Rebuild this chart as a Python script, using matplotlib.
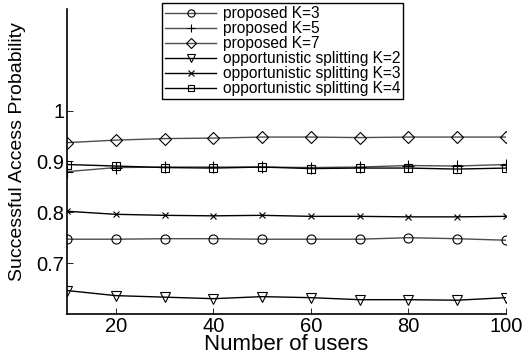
import matplotlib
matplotlib.use("Agg")
import matplotlib.pyplot as plt

plt.rcParams['font.family'] = ['Liberation Sans', 'DejaVu Sans']

users = [10, 20, 30, 40, 50, 60, 70, 80, 90, 100]

proposed_k3 = [0.747, 0.747, 0.748, 0.748, 0.747, 0.747, 0.747, 0.750, 0.748, 0.745]
proposed_k5 = [0.880, 0.888, 0.889, 0.889, 0.889, 0.888, 0.889, 0.892, 0.891, 0.894]
proposed_k7 = [0.937, 0.942, 0.945, 0.946, 0.948, 0.948, 0.947, 0.948, 0.948, 0.948]
split_k2 = [0.646, 0.636, 0.633, 0.630, 0.634, 0.632, 0.628, 0.628, 0.627, 0.632]
split_k3 = [0.802, 0.796, 0.794, 0.793, 0.794, 0.792, 0.792, 0.791, 0.791, 0.792]
split_k4 = [0.894, 0.891, 0.888, 0.887, 0.889, 0.886, 0.887, 0.887, 0.885, 0.887]

series = [
    (proposed_k3, "proposed K=3", "o", 6.5, "0.3"),
    (proposed_k5, "proposed K=5", "+", 8, "0.3"),
    (proposed_k7, "proposed K=7", "D", 6.5, "0.3"),
    (split_k2, "opportunistic splitting K=2", "v", 7.5, "k"),
    (split_k3, "opportunistic splitting K=3", "x", 5, "k"),
    (split_k4, "opportunistic splitting K=4", "s", 6, "k"),
]

fig = plt.figure(figsize=(5.25, 3.6), dpi=100)
ax = fig.add_axes([0.1276, 0.128, 0.8362, 0.847])

for vals, label, mk, ms, col in series:
    ax.plot(users, vals, color=col, lw=1.0, marker=mk, markersize=ms,
            markerfacecolor="none", markeredgecolor="k", markeredgewidth=0.8,
            label=label)

ax.set_xlim(10, 100)
ax.set_ylim(0.6, 1.2)
ax.set_xticks([20, 40, 60, 80, 100])
ax.set_yticks([0.7, 0.8, 0.9, 1.0])
ax.set_yticklabels(["0.7", "0.8", "0.9", "1"])
ax.tick_params(direction="in", length=4, width=0.6, labelsize=14.5, pad=2)
ax.spines["top"].set_visible(False)
ax.spines["right"].set_visible(False)
ax.spines["left"].set_linewidth(1.2)
ax.spines["bottom"].set_linewidth(1.2)

ax.set_xlabel("Number of users", fontsize=16, labelpad=-1)
ax.set_ylabel("Successful Access Probability", fontsize=14)
ax.yaxis.set_label_coords(-0.094, 0.531)

leg = ax.legend(loc="upper left", bbox_to_anchor=(162 / 525, 1 - 3 / 360),
                bbox_transform=fig.transFigure, fontsize=11.2, frameon=True,
                fancybox=False, edgecolor="k", framealpha=1, markerscale=0.8,
                handlelength=3.3, handletextpad=0.4, labelspacing=0.0,
                borderpad=0.2, borderaxespad=0)
leg.get_frame().set_linewidth(1.0)

fig.savefig("out.png", dpi=100)
